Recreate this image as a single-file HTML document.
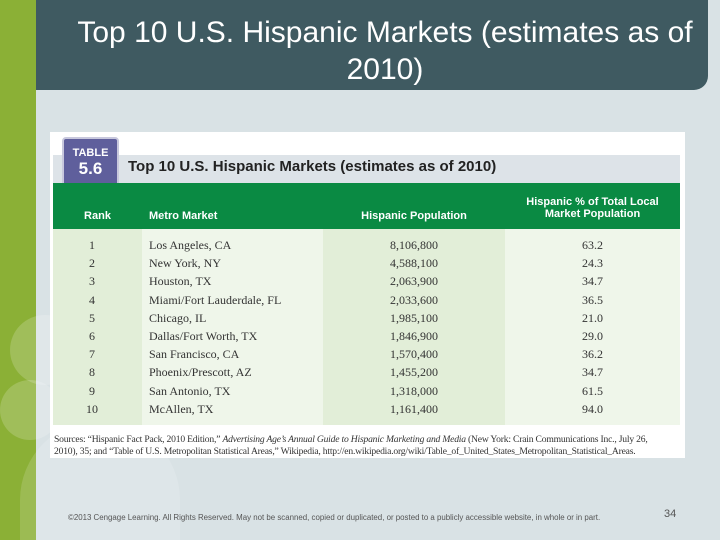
<!DOCTYPE html>
<html><head><meta charset="utf-8"><style>
html,body{margin:0;width:720px;height:540px;overflow:hidden;background:#d9e2e5}
body{position:relative;font-family:"Liberation Sans",sans-serif}
.abs{position:absolute}
.row div{position:absolute;font-family:"Liberation Serif",serif;font-size:12px;color:#333;top:0}
.hd{position:absolute;color:#fff;font-weight:bold;font-size:11px;text-align:center}
</style></head><body>
<div class="abs" style="left:0;top:0;width:720px;height:540px;overflow:hidden">
<div class="abs" style="left:0;top:0;width:36px;height:540px;background:#8bb036"></div>
<div class="abs" style="left:10px;top:315px;width:70px;height:70px;border-radius:50%;background:rgba(255,255,255,0.18)"></div>
<div class="abs" style="left:0;top:380px;width:60px;height:60px;border-radius:50%;background:rgba(255,255,255,0.18)"></div>
<div class="abs" style="left:20px;top:420px;width:160px;height:120px;border-radius:80px 80px 0 0;background:rgba(255,255,255,0.15)"></div>
</div>
<div class="abs" style="left:36px;top:0;width:672px;height:90px;background:#3f5a61;border-bottom-right-radius:14px"></div>
<div class="abs" style="left:36px;top:14px;width:698px;text-align:center;color:#fff;font-size:30px;line-height:37px;white-space:nowrap">Top 10 U.S. Hispanic Markets (estimates as of<br>2010)</div>
<div class="abs" style="left:50px;top:132px;width:635px;height:326px;background:#fff"></div>
<div class="abs" style="left:53px;top:155px;width:627px;height:28px;background:#dde3e8"></div>
<div class="abs" style="left:62px;top:137px;width:53px;height:50px;background:#5f5f9c;border:2px solid #c8c8dd;border-radius:4px;color:#fff;text-align:center;font-weight:bold"><div style="font-size:11px;margin-top:8px">TABLE</div><div style="font-size:17px">5.6</div></div>
<div class="abs" style="left:128px;top:158px;font-size:15px;font-weight:bold;color:#222">Top 10 U.S. Hispanic Markets (estimates as of 2010)</div>
<div class="abs" style="left:53px;top:183px;width:627px;height:46px;background:#0a8a43"></div>
<div class="hd" style="left:53px;top:210px;width:89px">Rank</div>
<div class="hd" style="left:149px;top:210px;text-align:left">Metro Market</div>
<div class="hd" style="left:323px;top:210px;width:182px">Hispanic Population</div>
<div class="hd" style="left:505px;top:196px;width:175px">Hispanic % of Total Local<br>Market Population</div>
<div class="abs" style="left:53px;top:229px;width:89px;height:196px;background:#e2eed8"></div>
<div class="abs" style="left:142px;top:229px;width:181px;height:196px;background:#eff6ea"></div>
<div class="abs" style="left:323px;top:229px;width:182px;height:196px;background:#e2eed8"></div>
<div class="abs" style="left:505px;top:229px;width:175px;height:196px;background:#eff6ea"></div>
<div id="rows"></div>
<div class="abs" style="left:54px;top:434px;width:640px;font-family:'Liberation Serif',serif;font-size:9.6px;line-height:12px;color:#333;white-space:nowrap;letter-spacing:-0.2px">Sources: “Hispanic Fact Pack, 2010 Edition,” <i>Advertising Age’s Annual Guide to Hispanic Marketing and Media</i> (New York: Crain Communications Inc., July 26,<br>2010), 35; and “Table of U.S. Metropolitan Statistical Areas,” Wikipedia, http://en.wikipedia.org/wiki/Table_of_United_States_Metropolitan_Statistical_Areas.</div>
<div class="abs" style="left:68px;top:513px;font-size:7.9px;color:#555;white-space:nowrap">©2013 Cengage Learning. All Rights Reserved. May not be scanned, copied or duplicated, or posted to a publicly accessible website, in whole or in part.</div>
<div class="abs" style="left:664px;top:508px;font-size:11px;color:#555">34</div>
<script>
const markets=["Los Angeles, CA","New York, NY","Houston, TX","Miami/Fort Lauderdale, FL","Chicago, IL","Dallas/Fort Worth, TX","San Francisco, CA","Phoenix/Prescott, AZ","San Antonio, TX","McAllen, TX"];
const populations=["8,106,800","4,588,100","2,063,900","2,033,600","1,985,100","1,846,900","1,570,400","1,455,200","1,318,000","1,161,400"];
const percents=["63.2","24.3","34.7","36.5","21.0","29.0","36.2","34.7","61.5","94.0"];
const c=document.getElementById('rows');
markets.forEach((m,i)=>{
const r=document.createElement('div');


r.className='row abs';r.style.left='0';r.style.top=(238+i*18.2)+'px';r.style.width='720px';
r.innerHTML='<div style="left:53px;width:78px;text-align:center">'+(i+1)+'</div><div style="left:149px">'+m+'</div><div style="left:323px;width:182px;text-align:center">'+populations[i]+'</div><div style="left:505px;width:175px;text-align:center">'+percents[i]+'</div>';
c.appendChild(r);});
</script>
</body></html>
